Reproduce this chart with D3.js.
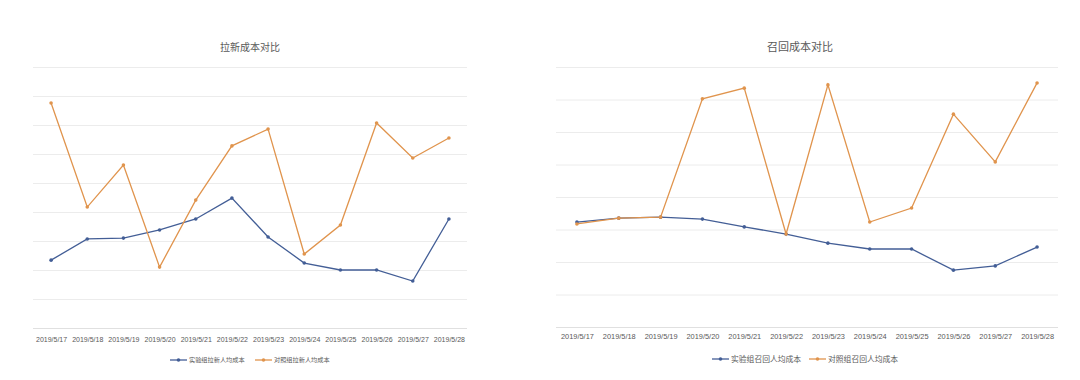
<!DOCTYPE html>
<html>
<head>
<meta charset="utf-8">
<script src="https://cdn.jsdelivr.net/npm/d3@7"></script>
<style>
  body { margin: 0; background: #fff; }
  svg { display: block; font-family: "Noto Sans CJK SC", "Noto Sans", sans-serif; }
</style>
</head>
<body>
<div id="chart"></div>
<script>
// x categories, shared by both charts
const dates = ["2019/5/17", "2019/5/18", "2019/5/19", "2019/5/20", "2019/5/21", "2019/5/22",
               "2019/5/23", "2019/5/24", "2019/5/25", "2019/5/26", "2019/5/27", "2019/5/28"];

// 拉新成本 (left chart)
const newUserTest = [23.4, 30.7, 31.0, 33.8, 37.6, 44.8, 31.4, 22.4, 20.0, 20.0, 16.2, 37.6];
const newUserCtrl = [77.6, 41.7, 56.2, 21.0, 44.1, 62.8, 68.6, 25.5, 35.5, 70.7, 58.6, 65.5];

// 召回成本 (right chart)
const recallTest = [32.3, 33.5, 33.8, 33.2, 30.8, 28.6, 25.8, 24.0, 24.0, 17.5, 18.8, 24.6];
const recallCtrl = [31.7, 33.5, 33.8, 70.2, 73.5, 28.6, 74.5, 32.3, 36.6, 65.5, 50.8, 75.1];

const leftTicks = d3.range(0, 91, 10);
const rightTicks = d3.range(0, 81, 10);

const width = 1080;
const height = 380;
const blue = "#435e96";
const orange = "#e0944d";

const svg = d3.select("#chart")
  .append("svg")
  .attr("width", width)
  .attr("height", height);

// draws one line chart with two series
function drawChart(opts) {
  const g = svg.append("g");

  const x = d3.scalePoint()
    .domain(dates)
    .range([opts.left, opts.right])
    .padding(0.5);

  const y = d3.scaleLinear()
    .domain([0, d3.max(opts.ticks)])
    .range([opts.bottom, opts.top]);

  // horizontal grid lines
  g.append("g")
    .call(d3.axisLeft(y).tickValues(opts.ticks).tickSize(-(opts.right - opts.left)).tickFormat(""))
    .attr("transform", `translate(${opts.left},0)`)
    .call(a => a.select(".domain").remove())
    .selectAll("line")
      .attr("stroke", (d) => d === 0 ? "#e0e0e0" : "#ececec")
      .attr("stroke-width", 1);

  // x axis labels
  g.append("g")
    .attr("transform", `translate(0,${opts.bottom})`)
    .call(d3.axisBottom(x).tickSize(0).tickPadding(opts.labelPad))
    .call(a => a.select(".domain").remove())
    .selectAll("text")
      .attr("fill", "#595959")
      .attr("font-size", opts.labelSize);

  // title
  g.append("text")
    .attr("x", opts.titleX)
    .attr("y", 51)
    .attr("text-anchor", "middle")
    .attr("font-size", opts.titleSize)
    .attr("fill", "#595959")
    .text(opts.title);

  const line = d3.line()
    .x((d, i) => x(dates[i]))
    .y((d) => y(d));

  const series = [
    {values: opts.test, color: blue, name: opts.names[0]},
    {values: opts.ctrl, color: orange, name: opts.names[1]}
  ];

  series.forEach(s => {
    g.append("path")
      .datum(s.values)
      .attr("fill", "none")
      .attr("stroke", s.color)
      .attr("stroke-width", 1.3)
      .attr("d", line);

    g.selectAll(null)
      .data(s.values)
      .enter()
      .append("circle")
        .attr("cx", (d, i) => x(dates[i]))
        .attr("cy", (d) => y(d))
        .attr("r", 1.8)
        .attr("fill", s.color);
  });

  // legend
  const lg = g.append("g")
    .attr("transform", `translate(${opts.legendX},${opts.legendY})`);
  series.forEach((s, i) => {
    const item = lg.append("g").attr("transform", `translate(${i * opts.legendStep},0)`);
    item.append("line")
      .attr("x1", 0).attr("x2", 17)
      .attr("stroke", s.color)
      .attr("stroke-width", 1.3);
    item.append("circle")
      .attr("cx", 8.5)
      .attr("r", 1.8)
      .attr("fill", s.color);
    item.append("text")
      .attr("x", 19)
      .attr("dy", "0.35em")
      .attr("font-size", opts.legendSize)
      .attr("fill", "#595959")
      .text(s.name);
  });
}

drawChart({
  left: 33, right: 467, top: 67, bottom: 328,
  ticks: leftTicks,
  test: newUserTest, ctrl: newUserCtrl,
  title: "拉新成本对比", titleX: 250, titleSize: 10,
  labelSize: 7, labelPad: 9,
  names: ["实验组拉新人均成本", "对照组拉新人均成本"],
  legendX: 170, legendY: 360, legendStep: 85, legendSize: 6.2
});

drawChart({
  left: 556, right: 1058, top: 67, bottom: 327,
  ticks: rightTicks,
  test: recallTest, ctrl: recallCtrl,
  title: "召回成本对比", titleX: 800, titleSize: 11,
  labelSize: 7.4, labelPad: 7,
  names: ["实验组召回人均成本", "对照组召回人均成本"],
  legendX: 712, legendY: 359, legendStep: 97, legendSize: 7.8
});
</script>
</body>
</html>
